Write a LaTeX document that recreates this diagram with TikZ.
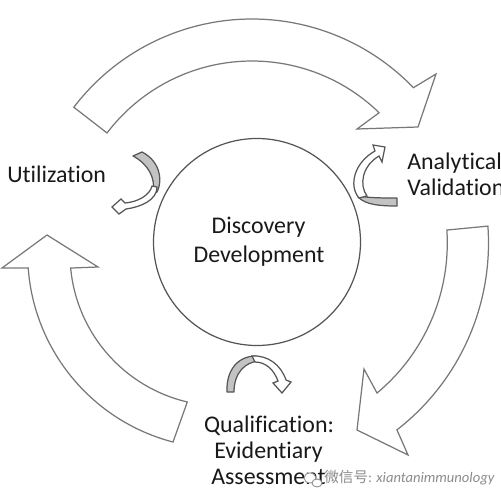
\documentclass[tikz,border=0pt]{standalone}
\usepackage{fontspec}
\setmainfont{Carlito}[Ligatures={NoCommon,NoContextual,NoDiscretionary}]
\newfontfamily\cjkfont{Noto Sans CJK SC}
\usetikzlibrary{calc}
\definecolor{edgegray}{RGB}{120,120,120}
\definecolor{darkedge}{RGB}{85,85,85}
\definecolor{shade}{RGB}{195,195,195}
\definecolor{txt}{RGB}{25,25,25}
\definecolor{wm}{RGB}{140,140,140}
\tikzset{
  bigarrow/.style={draw=edgegray, line width=0.7pt, fill=white, line join=miter},
  hubcircle/.style={draw=darkedge, line width=0.7pt, fill=white},
  smallgray/.style={draw=darkedge, line width=0.7pt, fill=shade, line join=round},
  smallwhite/.style={draw=darkedge, line width=0.7pt, fill=white, line join=miter},
  lbl/.style={font=\fontsize{13.6}{16}\selectfont, text=txt, inner sep=0pt},
  wmark/.style={font=\fontsize{8.3}{9}\selectfont, text=wm, inner sep=0pt}
}
\begin{document}
\begin{tikzpicture}[x=0.02cm,y=-0.02cm]
\clip (0,0) rectangle (500,500);
\fill[white] (0,0) rectangle (500,500);
\coordinate (C) at (252,243);
\coordinate (CL) at (222,254);

% top big arrow
\draw[bigarrow] ($(C)+(-142.7:224)$) arc[start angle=-142.7, end angle=-43.9, radius=224]
  -- (436,74) -- (418,127) -- (357,129)
  -- ($(C)+(-45.7:182)$) arc[start angle=-45.7, end angle=-142.8, radius=182] -- cycle;
% right big arrow
\draw[bigarrow] ($(C)+(-4.1:236.5)$) arc[start angle=-4.1, end angle=52.2, radius=236.5]
  -- (408,455) -- (357,430) -- (364,369)
  -- ($(C)+(50.2:195.3)$) arc[start angle=50.2, end angle=-3.8, radius=195.3] -- cycle;
% left big arrow
\draw[bigarrow] ($(CL)+(104.6:194.3)$) arc[start angle=104.6, end angle=175.9, radius=194.3]
  -- (2,268) -- (47,235) -- (98,267)
  -- ($(CL)+(174.7:152)$) arc[start angle=174.7, end angle=103.2, radius=152] -- cycle;

% hub
\node[hubcircle, circle, minimum size=207*0.02cm, inner sep=0pt] (hub) at (257,242) {};

% small arrow near Utilization
\draw[smallgray] (133,156) -- (142,152) .. controls (158,160) and (164,178) .. (157,192)
  -- (153,193) .. controls (156,178) and (148,164) .. (133,156) -- cycle;
\draw[smallwhite] (157,187) .. controls (157,200) and (141,207) .. (126,209)
  -- (119,214) -- (112,207) -- (121,199) -- (125,203)
  .. controls (138,202) and (150,195) .. (152,186) -- cycle;

% small arrow near Analytical Validation
\draw[smallgray] (360,196) .. controls (368,198) and (384,198) .. (397,198)
  -- (397,206) .. controls (380,206) and (366,205) .. (358,197) -- cycle;
\draw[smallwhite] (359,198) .. controls (348,185) and (355,162) .. (375,151)
  -- (373,145) -- (385,147) -- (382,162) -- (379,156)
  .. controls (362,166) and (359,185) .. (367,196) -- cycle;

% small arrow near Qualification
\draw[smallgray] (227,392) .. controls (226,370) and (238,356) .. (256,356)
  -- (259,361) .. controls (245,362) and (234,373) .. (234,392) -- cycle;
\draw[smallwhite] (252,356) .. controls (268,355) and (281,365) .. (286,380)
  -- (291,382) -- (282,393) -- (273,383) -- (278,381)
  .. controls (274,370) and (266,362) .. (255,362) -- cycle;

% labels
\node[lbl, anchor=base west] (util) at (7,182) {Utilization};
\node[lbl, anchor=base west] (ana1) at (407,169) {Analytical};
\node[lbl, anchor=base west] (ana2) at (407,195) {Validation};
\node[lbl, anchor=base] (disc1) at (258.5,233) {Discovery};
\node[lbl, anchor=base] (disc2) at (259,262) {Development};
\node[lbl, anchor=base] (qual1) at (269,432) {Qualification:};
\node[lbl, anchor=base] (qual2) at (268.5,458) {Evidentiary};
\node[lbl, anchor=base] (qual3) at (268.5,484) {Assessment};

% watermark
\draw[wm, line width=0.5pt, fill=white] (310,478) ellipse [x radius=6, y radius=5];
\draw[wm, line width=0.5pt, fill=white] (317,483) ellipse [x radius=5, y radius=4];
\node[wmark, anchor=base west] (wmk) at (324,482) {{\cjkfont 微信号}: \textit{xiantanimmunology}};
\end{tikzpicture}
\end{document}
